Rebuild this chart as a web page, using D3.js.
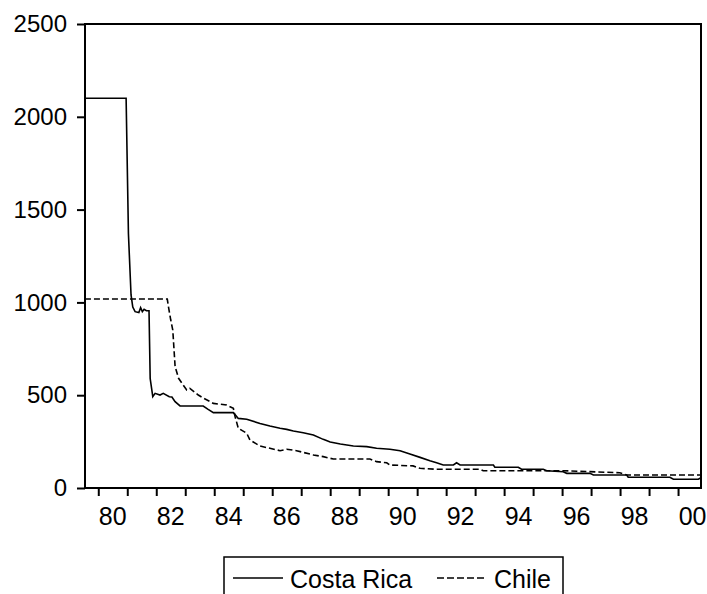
<!DOCTYPE html>
<html>
<head>
<meta charset="utf-8">
<script src="https://cdn.jsdelivr.net/npm/d3@7"></script>
<style>
  body { margin: 0; background: #fff; }
  svg { display: block; font-family: "Liberation Sans", Arial, sans-serif; }
</style>
</head>
<body>
<div id="chart"></div>
<script>
// [decimal year, value] vertices (monthly series, 1979:07 – 2000:10)
const costaRica = [
  [1979.54, 2100], [1980.96, 2100], [1981.04, 1370], [1981.13, 1040], [1981.19, 975],
  [1981.27, 950], [1981.40, 945], [1981.46, 972], [1981.52, 950], [1981.58, 963],
  [1981.66, 955], [1981.75, 955], [1981.79, 590], [1981.88, 492], [1981.96, 510],
  [1982.13, 501], [1982.24, 510], [1982.45, 492], [1982.54, 490], [1982.65, 465],
  [1982.82, 442], [1983.62, 442], [1983.79, 424], [1983.97, 406], [1984.66, 406],
  [1984.83, 375], [1985.12, 370], [1985.58, 348], [1985.92, 334], [1986.27, 322],
  [1986.50, 316], [1986.73, 307], [1987.07, 298], [1987.42, 286], [1987.76, 262],
  [1988.00, 248], [1988.35, 237], [1988.80, 226], [1989.26, 223], [1989.60, 214],
  [1990.06, 209], [1990.41, 201], [1990.75, 183], [1991.10, 165], [1991.44, 147],
  [1991.67, 136], [1991.90, 124], [1992.25, 124], [1992.36, 136], [1992.48, 124],
  [1993.63, 124], [1993.68, 112], [1994.49, 112], [1994.60, 101], [1995.35, 101],
  [1995.47, 93], [1996.04, 88], [1996.16, 79], [1996.96, 79], [1997.08, 70],
  [1998.23, 70], [1998.28, 58], [1999.72, 58], [1999.84, 47], [2000.70, 47],
  [2000.79, 55]
]

const chile = [
  [1979.54, 1018], [1982.38, 1018], [1982.42, 977], [1982.50, 905], [1982.57, 851],
  [1982.65, 654], [1982.77, 591], [1983.05, 528], [1983.16, 537], [1983.45, 501],
  [1983.62, 485], [1983.97, 456], [1984.43, 447], [1984.66, 429], [1984.72, 384],
  [1984.83, 322], [1985.12, 295], [1985.23, 259], [1985.58, 226], [1985.92, 214],
  [1986.27, 201], [1986.50, 209], [1986.84, 201], [1987.42, 178], [1987.76, 169],
  [1988.11, 156], [1989.37, 156], [1989.60, 142], [1989.95, 136], [1990.06, 124],
  [1990.86, 119], [1991.10, 106], [1991.67, 101], [1993.17, 101], [1993.28, 93],
  [1996.04, 93], [1996.96, 88], [1997.99, 82], [1998.23, 70], [2000.79, 70]
]

const yTicks = [0, 500, 1000, 1500, 2000, 2500]
const yearTicks = d3.range(1980, 2001)
const labelYears = [1980, 1982, 1984, 1986, 1988, 1990, 1992, 1994, 1996, 1998, 2000]
const labelText = ['80', '82', '84', '86', '88', '90', '92', '94', '96', '98', '00']
const seriesNames = ['Costa Rica', 'Chile']

const totalW = 707, totalH = 594
const box = { left: 85, top: 24, right: 701, bottom: 488 }

const svg = d3.select('#chart').append('svg')
  .attr('width', totalW)
  .attr('height', totalH)

const x = d3.scaleLinear().domain([1979.5417, 2000.7917]).range([box.left, box.right])
const y = d3.scaleLinear().domain([0, 2500]).range([box.bottom, box.top])

// x ticks at year boundaries, labels centred in the year
svg.append('g')
  .attr('transform', `translate(0,${box.bottom})`)
  .call(d3.axisBottom(x).tickValues(yearTicks).tickSize(8).tickFormat(''))
  .call(ax => ax.select('.domain').remove())
  .call(ax => ax.selectAll('line').attr('stroke', '#000').attr('stroke-width', 2))

svg.append('g')
  .selectAll('text')
  .data(labelYears)
  .enter().append('text')
  .attr('x', d => x(d + 0.5))
  .attr('y', 525)
  .attr('text-anchor', 'middle')
  .attr('font-size', 25)
  .attr('fill', '#000')
  .text((d, i) => labelText[i])

svg.append('g')
  .attr('transform', `translate(${box.left},0)`)
  .call(d3.axisLeft(y).tickValues(yTicks).tickSize(8).tickPadding(10).tickFormat(d3.format('d')))
  .call(ax => ax.select('.domain').remove())
  .call(ax => ax.selectAll('line').attr('stroke', '#000').attr('stroke-width', 2))
  .call(ax => ax.selectAll('text').attr('fill', '#000').attr('font-size', 24)
    .attr('font-family', '"Liberation Sans", Arial, sans-serif'))

// frame
svg.append('rect')
  .attr('x', box.left).attr('y', box.top)
  .attr('width', box.right - box.left).attr('height', box.bottom - box.top)
  .attr('fill', 'none').attr('stroke', '#000').attr('stroke-width', 2)

const line = d3.line()
  .x(d => x(d[0]))
  .y(d => y(d[1]))

svg.append('path')
  .datum(chile)
  .attr('fill', 'none')
  .attr('stroke', '#000')
  .attr('stroke-width', 1.6)
  .attr('stroke-dasharray', '6,3')
  .attr('d', line)

svg.append('path')
  .datum(costaRica)
  .attr('fill', 'none')
  .attr('stroke', '#000')
  .attr('stroke-width', 1.6)
  .attr('d', line)

// legend
const legend = svg.append('g')
legend.append('rect')
  .attr('x', 224).attr('y', 557)
  .attr('width', 339).attr('height', 45)
  .attr('fill', 'none').attr('stroke', '#000').attr('stroke-width', 1.5)

;[
  { x: 233, dash: null, label: seriesNames[0] },
  { x: 437, dash: '7,3', label: seriesNames[1] }
].forEach(item => {
  legend.append('line')
    .attr('x1', item.x).attr('x2', item.x + 50)
    .attr('y1', 578).attr('y2', 578)
    .attr('stroke', '#000').attr('stroke-width', 1.6)
    .attr('stroke-dasharray', item.dash)
  legend.append('text')
    .attr('x', item.x + 57).attr('y', 588)
    .attr('font-size', 25)
    .attr('fill', '#000')
    .text(item.label)
})
</script>
</body>
</html>
